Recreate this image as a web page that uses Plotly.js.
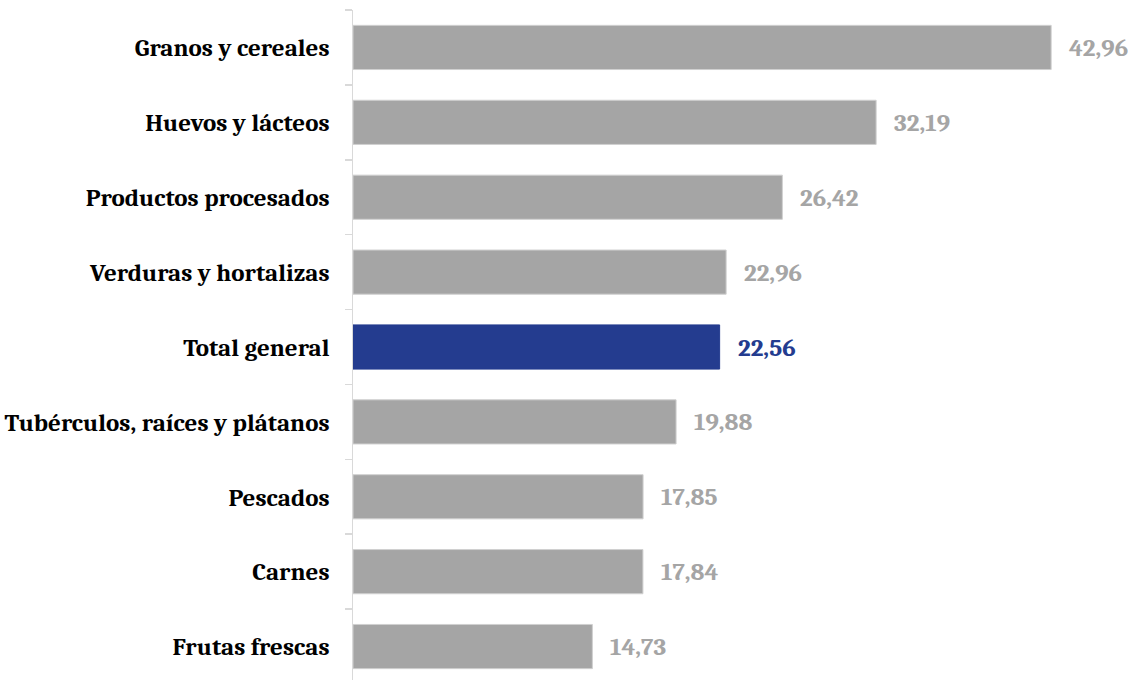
<!DOCTYPE html>
<html><head><meta charset="utf-8">
<script src="https://cdn.plot.ly/plotly-3.0.1.min.js"></script>
<style>html,body{margin:0;padding:0;overflow:hidden;background:#fff}</style>
</head><body><div id="chart" style="width:1136px;height:685px"></div>
<script>
const categories = ["Granos y cereales","Huevos y lácteos","Productos procesados","Verduras y hortalizas","Total general","Tubérculos, raíces y plátanos","Pescados","Carnes","Frutas frescas"];
const values = [42.96,32.19,26.42,22.96,22.56,19.88,17.85,17.84,14.73];
const labels = ["42,96","32,19","26,42","22,96","22,56","19,88","17,85","17,84","14,73"];
const highlight = "Total general";
const grey = "#a5a5a5", blue = "#243c8f";
const colors = categories.map(c => c === highlight ? blue : grey);
const lineColors = categories.map(c => c === highlight ? blue : "#d0d0d0");
const font = "Cambria, Caladea, 'Liberation Serif', serif";
const trace = {
  type: "bar", orientation: "h", x: values, y: categories,
  marker: {color: colors, line: {color: lineColors, width: 1}},
  hoverinfo: "none"
};
const annotations = values.map((v,i) => ({
  x: v, y: categories[i], xref: "x", yref: "y", text: "<b>"+labels[i]+"</b>",
  showarrow: false, xanchor: "left", xshift: 16,
  font: {family: font, size: 25, color: colors[i]}
}));
const layout = {
  width: 1136, height: 685,
  margin: {l: 353, r: 0, t: 10, b: 1, pad: 0},
  bargap: 0.41,
  showlegend: false,
  paper_bgcolor: "#fff", plot_bgcolor: "#fff",
  xaxis: {range: [0, 48.18], visible: false, fixedrange: true},
  yaxis: {autorange: "reversed", type: "category", tickson: "boundaries",
    ticks: "outside", ticklen: 7, tickcolor: "#d9d9d9", tickwidth: 1.5,
    showline: true, linecolor: "#d9d9d9", linewidth: 1.5, showgrid: false,
    ticklabelstandoff: 17,
    tickfont: {family: font, size: 25, color: "#000", weight: "bold"}},
  annotations: annotations
};
Plotly.newPlot("chart", [trace], layout, {displayModeBar: false, staticPlot: true});
</script></body></html>
